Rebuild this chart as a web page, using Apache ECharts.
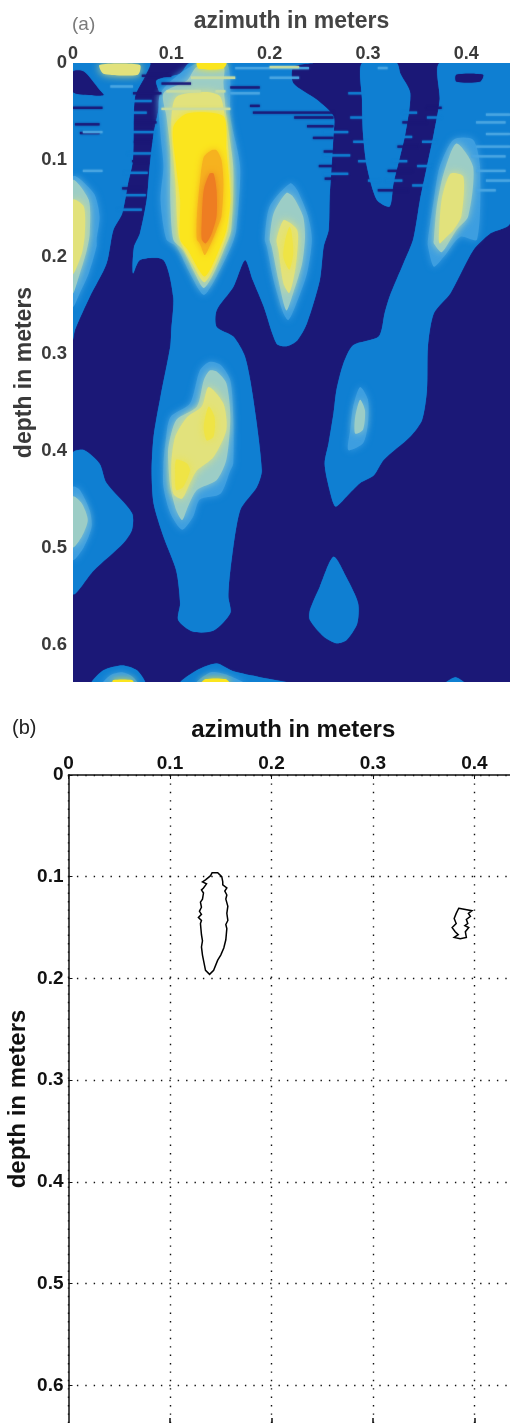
<!DOCTYPE html>
<html><head><meta charset="utf-8">
<style>html,body{margin:0;padding:0;background:#fff}#c{width:510px;height:1423px}</style>
<script src="https://cdn.jsdelivr.net/npm/echarts@6/dist/echarts.min.js"></script>
</head><body><div id="c"></div>
<script>
// Tick values
const azimuthTicksA = [0, 0.1, 0.2, 0.3, 0.4];
const depthTicksA = [0, 0.1, 0.2, 0.3, 0.4, 0.5, 0.6];
const azimuthTicksB = [0, 0.1, 0.2, 0.3, 0.4];
const depthTicksB = [0, 0.1, 0.2, 0.3, 0.4, 0.5, 0.6];

// Panel (a): intensity bands, as [azimuth, depth] outlines
const blueLeft = [[0,0],[.078,0],[.074,.012],[.063,.035],[.061,.1],[.056,.124],[.05,.155],[.041,.172],[.034,.207],[.017,.241],[.002,.275],[0,.285]];
const blueCenter = [[.119,0],[.109,.011],[.085,.018],[.089,.035],[.082,.073],[.078,.107],[.075,.141],[.068,.176],[.062,.19],[.061,.217],[.068,.203],[.092,.203],[.102,.241],[.1,.275],[.099,.292],[.089,.344],[.082,.385],[.08,.42],[.082,.454],[.092,.488],[.105,.523],[.109,.557],[.107,.574],[.122,.586],[.143,.585],[.16,.567],[.158,.55],[.16,.523],[.17,.461],[.187,.437],[.192,.42],[.183,.344],[.175,.303],[.163,.282],[.146,.272],[.146,.255],[.163,.231],[.175,.203],[.183,.224],[.194,.251],[.207,.289],[.217,.292],[.228,.286],[.238,.268],[.251,.224],[.255,.189],[.26,.172],[.261,.14],[.265,.073],[.265,.055],[.248,.038],[.224,.021],[.224,.004],[.244,0]];
const blueThird = [[.294,0],[.294,.038],[.295,.073],[.299,.107],[.309,.141],[.322,.148],[.326,.124],[.338,.073],[.343,.031],[.333,.011],[.329,0]];
const blueRight = [[.373,0],[.373,.038],[.367,.073],[.36,.107],[.353,.141],[.346,.182],[.336,.207],[.322,.241],[.317,.258],[.311,.282],[.285,.291],[.275,.31],[.268,.337],[.265,.361],[.26,.392],[.256,.413],[.261,.44],[.267,.457],[.278,.447],[.292,.433],[.306,.425],[.316,.409],[.343,.385],[.355,.368],[.36,.337],[.361,.292],[.367,.258],[.384,.237],[.407,.193],[.424,.176],[.4445,.165],[.4445,0]];
const blueLowerLeft = [[0,.402],[.011,.399],[.027,.413],[.034,.433],[.06,.464],[.06,.481],[.051,.495],[.021,.523],[0,.547]];
const blueDrop = [[.265,.509],[.278,.53],[.29,.557],[.289,.578],[.278,.595],[.268,.598],[.255,.591],[.241,.574],[.241,.564],[.251,.54]];
const blueBump1 = [[.019,.64],[.031,.626],[.05,.621],[.065,.626],[.073,.64]];
const blueBump2 = [[.109,.64],[.126,.626],[.146,.619],[.163,.627],[.19,.633],[.224,.64]];
const blueBump3 = [[.378,.64],[.389,.633],[.399,.64]];
const navyTopLeft = [[0,.009],[.011,.009],[.027,.028],[.031,.033],[.017,.033],[0,.03]];
const navyTopRight = [[.39,.012],[.417,.012],[.414,.019],[.39,.019]];

const skyCenter = [[.126,0],[.089,.031],[.089,.073],[.092,.107],[.089,.141],[.095,.182],[.105,.189],[.119,.217],[.133,.239],[.146,.22],[.161,.189],[.166,.172],[.17,.107],[.16,.055],[.16,.018],[.156,0]];
const skySecond = [[.221,.124],[.2,.148],[.195,.182],[.197,.189],[.204,.224],[.214,.258],[.219,.265],[.226,.251],[.238,.217],[.243,.182],[.239,.158],[.228,.131]];
const skyRight = [[.407,.079],[.387,.079],[.373,.107],[.367,.141],[.361,.182],[.361,.189],[.367,.21],[.377,.2],[.394,.179],[.411,.182],[.414,.107]];
const skyLeft = [[0,.117],[.021,.134],[.027,.158],[.024,.182],[.024,.189],[.016,.217],[.007,.237],[0,.251]];
const skyLower = [[.139,.308],[.129,.317],[.119,.351],[.099,.365],[.094,.392],[.092,.413],[.092,.437],[.099,.464],[.111,.481],[.122,.468],[.129,.45],[.15,.444],[.16,.42],[.163,.413],[.163,.365],[.16,.327],[.15,.311]];
const skyThird = [[.292,.334],[.285,.354],[.282,.378],[.28,.399],[.295,.392],[.3,.372],[.3,.347]];
const skyLowerLeft = [[0,.437],[.007,.44],[.017,.461],[.019,.478],[.011,.499],[0,.512]];
const skyBump1 = [[.03,.64],[.038,.631],[.05,.628],[.06,.632],[.066,.64]];
const skyBump2 = [[.125,.64],[.14,.628],[.155,.63],[.175,.64]];

const paleCenter = [[.126,.004],[.116,.018],[.092,.031],[.095,.055],[.099,.09],[.099,.141],[.102,.182],[.112,.193],[.124,.217],[.133,.232],[.143,.217],[.155,.189],[.161,.172],[.163,.107],[.156,.055],[.153,.021],[.153,.004]];
const paleSecond = [[.217,.134],[.204,.155],[.2,.182],[.202,.189],[.209,.224],[.217,.255],[.224,.237],[.233,.207],[.236,.179],[.234,.158],[.224,.138]];
const paleRight = [[.39,.083],[.377,.114],[.37,.148],[.367,.182],[.367,.186],[.375,.195],[.384,.182],[.39,.172],[.402,.158],[.407,.107]];
const paleLeft = [[0,.121],[.016,.141],[.017,.176],[.014,.193],[.007,.217],[0,.237]];
const paleLower = [[.139,.317],[.133,.327],[.126,.354],[.105,.368],[.097,.396],[.097,.413],[.099,.437],[.105,.461],[.111,.471],[.117,.457],[.126,.44],[.146,.43],[.156,.409],[.16,.365],[.156,.33],[.146,.318]];
const paleThird = [[.292,.347],[.287,.365],[.287,.382],[.295,.378],[.297,.358]];
const paleLowerLeft = [[0,.447],[.009,.454],[.015,.471],[.009,.488],[0,.499]];

const creamCenter = [[.105,.035],[.135,.03],[.15,.035],[.156,.07],[.16,.12],[.158,.17],[.148,.2],[.134,.226],[.122,.208],[.108,.18],[.104,.12],[.1,.06]];
const creamSecond = [[.214,.162],[.207,.182],[.209,.193],[.214,.227],[.22,.237],[.226,.213],[.229,.182],[.228,.172],[.221,.165]];
const creamRight = [[.384,.114],[.375,.141],[.372,.182],[.373,.186],[.38,.179],[.387,.172],[.395,.158],[.397,.117]];
const creamLeft = [[0,.141],[.011,.148],[.012,.176],[.009,.196],[0,.217]];
const creamLower = [[.138,.334],[.131,.354],[.116,.365],[.104,.385],[.1,.413],[.102,.444],[.111,.449],[.119,.433],[.126,.42],[.143,.406],[.156,.378],[.153,.351]];

const yellowTopLeft = [[.027,.002],[.031,.011],[.066,.012],[.068,.002]];
const yellowTopCenter = [[.126,0],[.156,0],[.152,.006],[.128,.006]];
const yellowCenter = [[.102,.066],[.105,.107],[.109,.141],[.109,.182],[.117,.193],[.128,.213],[.134,.22],[.141,.21],[.15,.189],[.156,.172],[.16,.141],[.156,.09],[.153,.055],[.116,.052]];
const yellowSecond = [[.22,.169],[.216,.182],[.214,.2],[.22,.213],[.224,.196],[.222,.172]];
const yellowLower1 = [[.138,.354],[.133,.375],[.136,.389],[.143,.385],[.144,.365]];
const yellowLower2 = [[.104,.423],[.105,.44],[.112,.437],[.119,.42],[.116,.413],[.105,.409]];
const yellowBump1 = [[.04,.64],[.041,.636],[.06,.636],[.062,.64]];
const yellowBump2 = [[.13,.64],[.135,.635],[.155,.635],[.16,.64]];

const orangeCenter = [[.133,.097],[.129,.124],[.126,.158],[.126,.182],[.129,.186],[.134,.198],[.139,.189],[.146,.172],[.151,.158],[.153,.124],[.151,.1],[.146,.09],[.141,.09]];
const redCenter = [[.139,.114],[.133,.131],[.131,.162],[.131,.182],[.135,.186],[.141,.176],[.146,.158],[.146,.131],[.143,.114]];

// Horizontal streaks: [depth, azimuth from, azimuth to]
const navyStreaks = [[.045,0,.03],[.062,.002,.027],[.071,.007,.027],[.024,.16,.19],[.043,.18,.19],[.05,.183,.265],[.055,.225,.265],[.064,.238,.265],[.076,.244,.265],[.09,.255,.265],[.105,.25,.265],[.118,.256,.265],[.02,.09,.12],[.012,.07,.1],[.03,.061,.09],[.06,.063,.085],[.08,.062,.08],[.1,.06,.075],[.128,.05,.07],[.06,.335,.36],[.085,.33,.35],[.11,.32,.345],[.13,.31,.34],[.045,.36,.375]];
const blueStreaks = [[.038,.06,.08],[.05,.06,.075],[.07,.06,.084],[.092,.055,.08],[.112,.052,.076],[.135,.05,.074],[.15,.045,.07],[.03,.28,.295],[.055,.282,.296],[.08,.285,.3],[.1,.29,.3],[.12,.3,.312],[.07,.255,.28],[.094,.255,.282],[.113,.255,.28],[.05,.335,.35],[.075,.335,.345],[.1,.325,.34],[.12,.318,.335],[.055,.36,.375],[.08,.355,.37],[.105,.35,.365],[.125,.345,.36]];
const skyStreaks = [[.023,.038,.061],[.03,.16,.19],[.052,.42,.4445],[.06,.41,.44],[.072,.42,.4445],[.085,.41,.4445],[.095,.405,.44],[.11,.41,.44],[.12,.42,.4445],[.13,.41,.43],[.014,.2,.23],[.004,.165,.24],[.07,.01,.03],[.11,.01,.03],[.004,.31,.32]];
const paleStreaks = [[.014,.12,.165],[.028,.095,.13],[.028,.145,.155],[.046,.09,.16],[.003,.2,.23]];

// Panel (b): contours as [azimuth, depth]
const contourLarge = [[.1415,.096],[.147,.096],[.151,.1],[.152,.105],[.152,.108],[.156,.111],[.154,.114],[.156,.118],[.155,.122],[.157,.129],[.156,.136],[.157,.143],[.155,.147],[.156,.151],[.155,.162],[.153,.17],[.15,.177],[.147,.182],[.143,.192],[.139,.196],[.135,.192],[.132,.177],[.131,.169],[.132,.163],[.131,.157],[.13,.146],[.131,.143],[.128,.14],[.131,.137],[.129,.134],[.131,.13],[.13,.125],[.132,.122],[.133,.116],[.131,.113],[.133,.111],[.136,.107],[.132,.105],[.135,.103],[.14,.099]];
const contourSmall = [[.3845,.131],[.3975,.1334],[.394,.136],[.396,.139],[.392,.142],[.3934,.146],[.3905,.148],[.3944,.15],[.391,.154],[.392,.1596],[.386,.161],[.38,.1596],[.384,.157],[.381,.154],[.378,.15],[.382,.146],[.38,.141],[.382,.136]];

const navyBase = '#1b1877';
const bandLayers = [
  {color:'#0f7fd2', blur:1, polys:[blueLeft,blueCenter,blueThird,blueRight,blueLowerLeft,blueDrop,blueBump1,blueBump2,blueBump3]},
  {color:navyBase, blur:1, polys:[navyTopLeft,navyTopRight]},
  {color:'#3d9ee0', blur:7, polys:[skyCenter,skySecond,skyRight,skyLeft,skyLower,skyThird,skyLowerLeft,skyBump1,skyBump2]},
  {color:'#9ccdc6', blur:8, polys:[paleCenter,paleSecond,paleRight,paleLeft,paleLower,paleThird,paleLowerLeft]},
  {color:'#e2e27c', blur:9, polys:[creamCenter,creamSecond,creamRight,creamLeft,creamLower,yellowTopLeft]},
  {color:'#efe445', blur:8, polys:[yellowSecond,yellowLower1,yellowLower2]},
  {color:'#fbe51e', blur:7, polys:[yellowTopCenter,yellowCenter,yellowBump1,yellowBump2]},
  {color:'#f6b21f', blur:7, polys:[orangeCenter]},
  {color:'#ee7d22', blur:7, polys:[redCenter]}
];
const streakLayers = [
  {color:navyBase, rows:navyStreaks},
  {color:'#0f7fd2', rows:blueStreaks},
  {color:'#4aa6e2', rows:skyStreaks},
  {color:'#c9dca0', rows:paleStreaks}
];

const shapes = [];
bandLayers.forEach(l => l.polys.forEach(p => shapes.push({kind:'poly', pts:p, color:l.color, blur:l.blur})));
streakLayers.forEach(l => l.rows.forEach(r => shapes.push({kind:'row', row:r, color:l.color})));

const streakDepth = 0.0024;
function renderBand(params, api) {
  const s = shapes[params.dataIndex];
  if (s.kind === 'poly') {
    return {type:'polygon', shape:{points:s.pts.map(p => api.coord(p)), smooth:0.25},
      style:{fill:s.color, shadowBlur:s.blur, shadowColor:s.color}};
  }
  const a = api.coord([s.row[1], s.row[0]]);
  const b = api.coord([s.row[2], s.row[0] + streakDepth]);
  return {type:'rect', shape:{x:a[0], y:a[1], width:b[0]-a[0], height:b[1]-a[1]},
    style:{fill:s.color, shadowBlur:2, shadowColor:s.color, opacity:0.85}};
}
function renderContour(params, api) {
  const pts = [contourLarge, contourSmall][params.dataIndex].map(p => api.coord(p));
  return {type:'polygon', shape:{points:pts},
    style:{fill:'none', stroke:'#000', lineWidth:1.5}};
}
const fmt = v => v === 0 ? '0' : v.toFixed(1);
const font = 'Liberation Sans';
const chart = echarts.init(document.getElementById('c'), null, {renderer:'canvas'});
const dotted = {show:true, lineStyle:{color:'#111', width:1.4, type:[1.4,7]}};
chart.setOption({
  animation:false,
  backgroundColor:'#fff',
  title:[
    {text:'(a)', left:67, top:10, textStyle:{fontFamily:font, fontSize:19, fontWeight:'normal', color:'#7a7a7a'}},
    {text:'(b)', left:7, top:713, textStyle:{fontFamily:font, fontSize:20, fontWeight:'normal', color:'#222'}}
  ],
  grid:[
    {left:73, top:63, width:437, height:619, show:true, backgroundColor:navyBase, borderWidth:0, outerBoundsMode:'none'},
    {left:68.5, top:775, width:441.5, height:648, show:false, outerBoundsMode:'none'}
  ],
  xAxis:[
    {gridIndex:0, type:'value', position:'top', min:0, max:.4445, name:'azimuth in meters', nameLocation:'middle', nameGap:30,
     nameTextStyle:{fontFamily:font, fontSize:23, fontWeight:'bold', color:'#444'},
     axisLine:{show:false}, axisTick:{show:false}, splitLine:{show:false},
     axisLabel:{customValues:azimuthTicksA, formatter:fmt, margin:0, fontFamily:font, fontSize:18, fontWeight:'bold', color:'#3a3a3a'}},
    {gridIndex:1, type:'value', position:'top', min:0, max:.435, name:'azimuth in meters', nameLocation:'middle', nameGap:33,
     nameTextStyle:{fontFamily:font, fontSize:24, fontWeight:'bold', color:'#111', padding:[0,0,0,8]},
     axisLine:{show:true, lineStyle:{color:'#111', width:1.5}},
     axisTick:{show:true, inside:true, length:4, customValues:azimuthTicksB, lineStyle:{color:'#111', width:1}},
     splitLine:dotted,
     axisLabel:{customValues:azimuthTicksB, formatter:fmt, margin:2, fontFamily:font, fontSize:19, fontWeight:'bold', color:'#111'}},
    {gridIndex:1, type:'value', position:'bottom', min:0, max:.435,
     axisLine:{show:false}, splitLine:{show:false}, axisLabel:{show:false},
     axisTick:{show:true, inside:true, length:5, customValues:azimuthTicksB.slice(1), lineStyle:{color:'#111', width:1.5}}}
  ],
  yAxis:[
    {gridIndex:0, type:'value', inverse:true, min:0, max:.638, name:'depth in meters', nameLocation:'middle', nameGap:36.5, nameMoveOverlap:false, nameRotate:90,
     nameTextStyle:{fontFamily:font, fontSize:23, fontWeight:'bold', color:'#3a3a3a'},
     axisLine:{show:false}, axisTick:{show:false}, splitLine:{show:false},
     axisLabel:{customValues:depthTicksA, formatter:fmt, margin:6, fontFamily:font, fontSize:18.5, fontWeight:'bold', color:'#3a3a3a'}},
    {gridIndex:1, type:'value', inverse:true, min:0, max:.637, name:'depth in meters', nameLocation:'middle', nameGap:38.5, nameMoveOverlap:false, nameRotate:90,
     nameTextStyle:{fontFamily:font, fontSize:24, fontWeight:'bold', color:'#111'},
     axisLine:{show:true, lineStyle:{color:'#111', width:1.5}},
     axisTick:{show:true, inside:true, length:4, customValues:depthTicksB, lineStyle:{color:'#111', width:1}},
     splitLine:dotted,
     axisLabel:{customValues:depthTicksB, formatter:fmt, margin:5, fontFamily:font, fontSize:19, fontWeight:'bold', color:'#111'}}
  ],
  series:[
    {type:'custom', xAxisIndex:0, yAxisIndex:0, clip:true, silent:true, renderItem:renderBand, data:shapes.map((s,i)=>[i])},
    {type:'custom', xAxisIndex:1, yAxisIndex:1, clip:true, silent:true, renderItem:renderContour, data:[[0],[1]]}
  ]
});
</script></body></html>
